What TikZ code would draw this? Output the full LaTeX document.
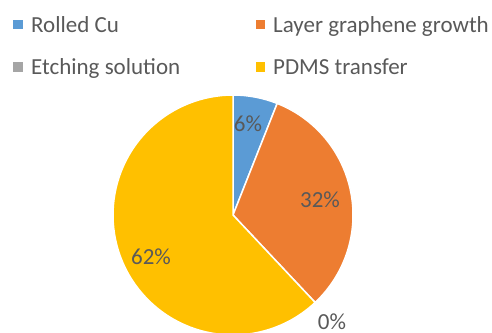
\documentclass[tikz,border=0pt]{standalone}
\usepackage{fontspec}
\setmainfont{Carlito}
\definecolor{cblue}{HTML}{5B9BD5}
\definecolor{corange}{HTML}{ED7D31}
\definecolor{cgray}{HTML}{A5A5A5}
\definecolor{cyellow}{HTML}{FFC000}
\definecolor{ctext}{HTML}{595959}
\begin{document}
\begin{tikzpicture}[x=1pt,y=1pt,
  txt/.style={text=ctext,font=\fontsize{23}{27}\selectfont,inner sep=0pt},
  legtxt/.style={txt,anchor=base west},
  marker/.style={minimum size=9.5pt,inner sep=0pt,draw=none},
  slice/.style={draw=white,line width=1.5pt,line join=round}]
\useasboundingbox (0,0) rectangle (492,332);
\coordinate (c) at (233,117);
% pie slices
\filldraw[slice,fill=cblue] (c) -- ++(90:120pt) arc[start angle=90,end angle=68.4,radius=120pt] -- cycle;
\filldraw[slice,fill=corange] (c) -- ++(68.4:120pt) arc[start angle=68.4,end angle=-46.8,radius=120pt] -- cycle;
\filldraw[slice,fill=cyellow] (c) -- ++(-46.8:120pt) arc[start angle=-46.8,end angle=-270,radius=120pt] -- cycle;
% data labels
\node[txt] (l6) at (248,208) {6\%};
\node[txt] (l32) at (320,132) {32\%};
\node[txt] (l62) at (151,75) {62\%};
\node[txt,anchor=base] (l0) at (332,3) {0\%};
% legend
\node[marker,fill=cblue] (m1) at (18,307.5) {};
\node[legtxt] (t1) at (31,299.5) {Rolled Cu};
\node[marker,fill=corange] (m2) at (260.5,307.5) {};
\node[legtxt] (t2) at (273,299.5) {Layer graphene growth};
\node[marker,fill=cgray] (m3) at (18,265) {};
\node[legtxt] (t3) at (31,257) {Etching solution};
\node[marker,fill=cyellow] (m4) at (260.5,265) {};
\node[legtxt] (t4) at (273,257) {PDMS transfer};
\end{tikzpicture}
\end{document}
